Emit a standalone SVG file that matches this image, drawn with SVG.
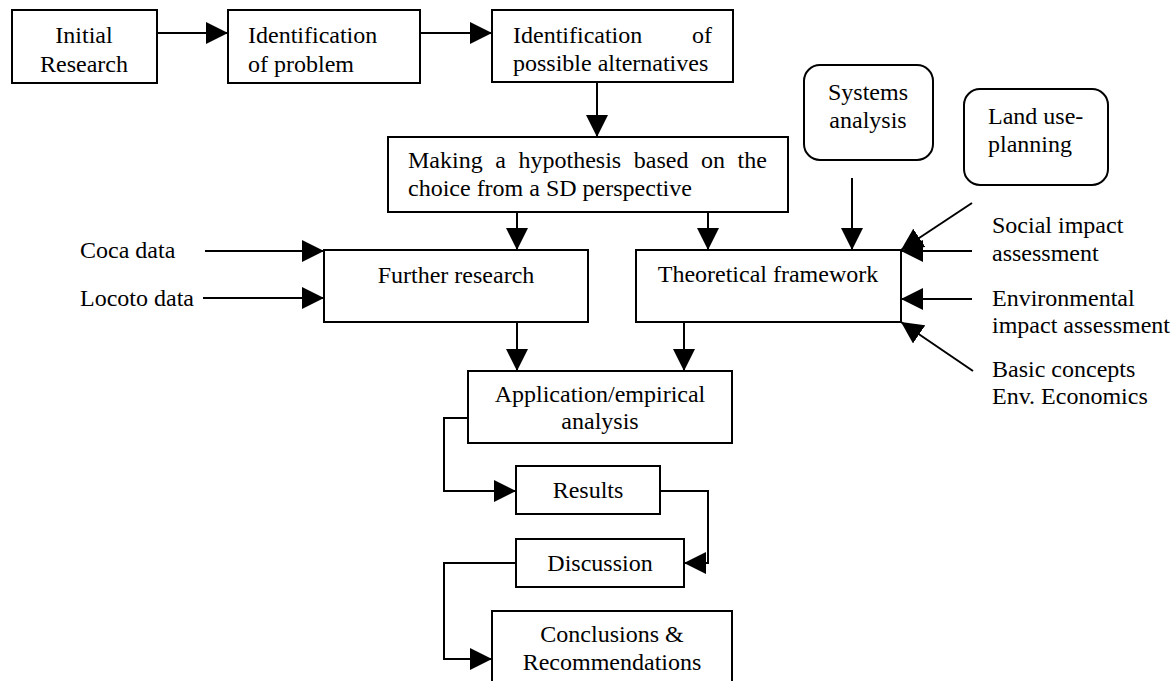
<svg xmlns="http://www.w3.org/2000/svg" width="1175" height="681" viewBox="0 0 1175 681">
<style>
.box{fill:#fff;stroke:#000;stroke-width:2}
.ln{fill:none;stroke:#000;stroke-width:2}
.arr{marker-end:url(#ah)}
text{font-family:"Liberation Serif","Times New Roman",serif;font-size:24px;fill:#000}
.c{text-anchor:middle}
</style>
<defs>
<marker id="ah" markerUnits="userSpaceOnUse" markerWidth="22" markerHeight="22" refX="20" refY="10" orient="auto" viewBox="0 0 20 20">
<path d="M0,0 L20,10 L0,20 Z" fill="#000"/>
</marker>
</defs>
<rect width="1175" height="681" fill="#fff"/>
<g id="connectors">
<line class="ln arr" x1="157" y1="33" x2="228" y2="33"/>
<line class="ln arr" x1="420" y1="33" x2="492" y2="33"/>
<line class="ln arr" x1="597" y1="82" x2="597" y2="137"/>
<line class="ln arr" x1="517" y1="212" x2="517" y2="250"/>
<line class="ln arr" x1="708" y1="212" x2="708" y2="250"/>
<line class="ln arr" x1="852" y1="178" x2="852" y2="250"/>
<line class="ln arr" x1="972" y1="203" x2="901" y2="250"/>
<line class="ln arr" x1="972" y1="251" x2="901" y2="251"/>
<line class="ln arr" x1="972" y1="299" x2="901" y2="299"/>
<line class="ln arr" x1="973" y1="371" x2="901" y2="322"/>
<line class="ln arr" x1="205" y1="251" x2="324" y2="251"/>
<line class="ln arr" x1="203" y1="298" x2="324" y2="298"/>
<line class="ln arr" x1="517" y1="322" x2="517" y2="371"/>
<line class="ln arr" x1="684" y1="322" x2="684" y2="371"/>
<polyline class="ln arr" points="468,418 444,418 444,491 516,491"/>
<polyline class="ln arr" points="660,491 708,491 708,563 684,563"/>
<polyline class="ln arr" points="516,563 444,563 444,659 492,659"/>
</g>
<g id="initial-research">
<rect class="box" x="12" y="10" width="145" height="73"/>
<text class="c" x="84" y="43">Initial</text>
<text class="c" x="84" y="72">Research</text>
</g>
<g id="identification-problem">
<rect class="box" x="228" y="10" width="192" height="73"/>
<text x="248" y="43">Identification</text>
<text x="248" y="72">of problem</text>
</g>
<g id="identification-alternatives">
<rect class="box" x="492" y="10" width="241" height="72"/>
<text x="513" y="43">Identification</text>
<text x="712" y="43" text-anchor="end">of</text>
<text x="513" y="71">possible alternatives</text>
</g>
<g id="hypothesis">
<rect class="box" x="388" y="137" width="400" height="75"/>
<text x="408" y="168" word-spacing="6.6">Making a hypothesis based on the</text>
<text x="408" y="196">choice from a SD perspective</text>
</g>
<g id="systems-analysis">
<rect class="box" x="804" y="65" width="129" height="95" rx="16" ry="16"/>
<text class="c" x="868" y="100">Systems</text>
<text class="c" x="868" y="128">analysis</text>
</g>
<g id="land-use-planning">
<rect class="box" x="964" y="89" width="144" height="96" rx="16" ry="16"/>
<text x="988" y="124">Land use-</text>
<text x="988" y="152">planning</text>
</g>
<g id="coca-data">
<text x="80" y="258">Coca data</text>
</g>
<g id="locoto-data">
<text x="80" y="306">Locoto data</text>
</g>
<g id="further-research">
<rect class="box" x="324" y="250" width="264" height="72"/>
<text class="c" x="456" y="283">Further research</text>
</g>
<g id="theoretical-framework">
<rect class="box" x="636" y="250" width="265" height="72"/>
<text class="c" x="768" y="282">Theoretical framework</text>
</g>
<g id="social-impact">
<text x="992" y="233">Social impact</text>
<text x="992" y="261">assessment</text>
</g>
<g id="environmental-impact">
<text x="992" y="306">Environmental</text>
<text x="992" y="333">impact assessment</text>
</g>
<g id="basic-concepts">
<text x="992" y="377">Basic concepts</text>
<text x="992" y="404">Env. Economics</text>
</g>
<g id="application">
<rect class="box" x="468" y="371" width="264" height="72"/>
<text class="c" x="600" y="402">Application/empirical</text>
<text class="c" x="600" y="429">analysis</text>
</g>
<g id="results">
<rect class="box" x="516" y="466" width="144" height="48"/>
<text class="c" x="588" y="498">Results</text>
</g>
<g id="discussion">
<rect class="box" x="516" y="539" width="168" height="48"/>
<text class="c" x="600" y="571">Discussion</text>
</g>
<g id="conclusions">
<rect class="box" x="492" y="611" width="240" height="80"/>
<text class="c" x="612" y="642">Conclusions &amp;</text>
<text class="c" x="612" y="670">Recommendations</text>
</g>
</svg>
